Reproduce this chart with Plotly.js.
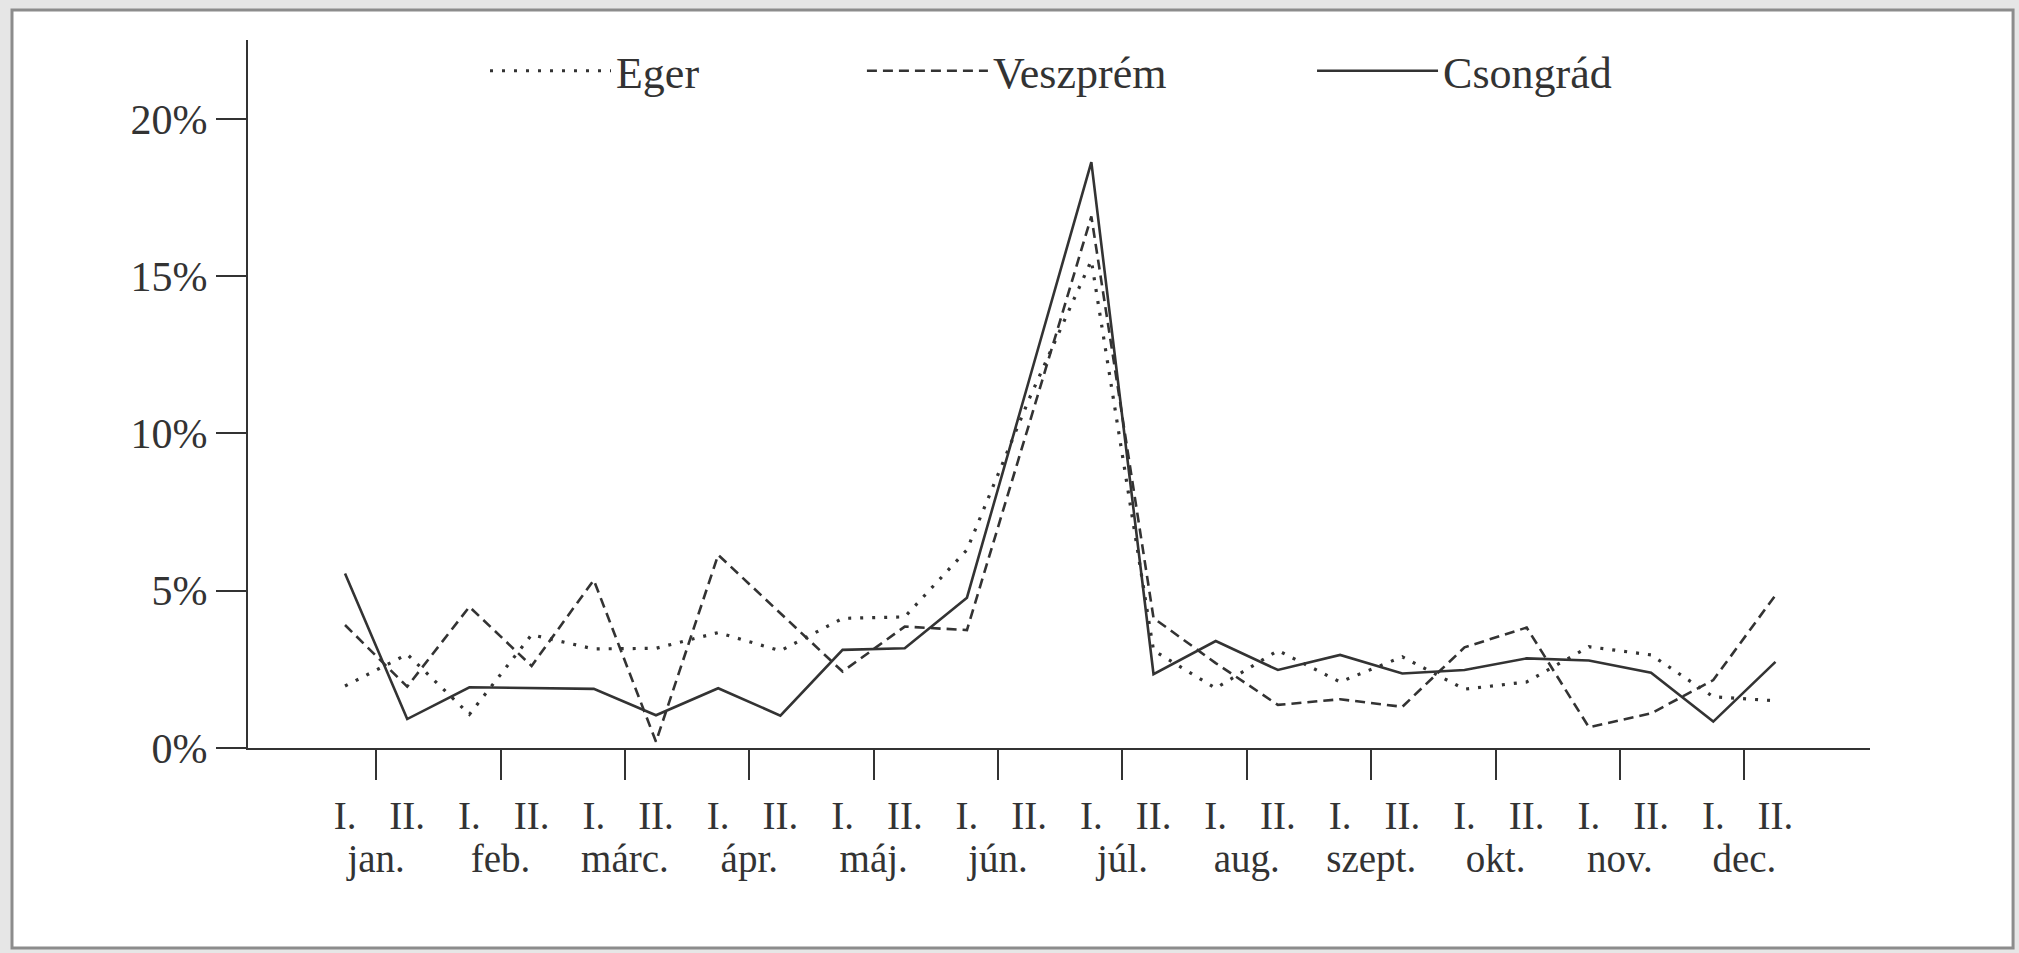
<!DOCTYPE html>
<html>
<head>
<meta charset="utf-8">
<script src="https://cdn.plot.ly/plotly-3.0.1.min.js"></script>
<style>html,body{margin:0;padding:0;background:#e6e6e6;}</style>
</head>
<body>
<div id="chart" style="width:2019px;height:953px;"></div>
<script>
// ---- data ----
const months = ["jan.", "feb.", "márc.", "ápr.", "máj.", "jún.", "júl.", "aug.", "szept.", "okt.", "nov.", "dec."];
const halves = ["I.", "II."];
const seriesNames = ["Eger", "Veszprém", "Csongrád"];
const eger     = [1.97, 2.98, 1.07, 3.60, 3.15, 3.17, 3.67, 3.09, 4.12, 4.17, 6.30, 11.1, 15.5, 3.10, 1.90, 3.10, 2.10, 2.90, 1.87, 2.10, 3.22, 2.96, 1.63, 1.50];
const veszprem = [3.91, 1.95, 4.49, 2.61, 5.34, 0.20, 6.14, 4.30, 2.43, 3.86, 3.75, 10.3, 16.9, 4.13, 2.70, 1.37, 1.55, 1.31, 3.20, 3.83, 0.66, 1.10, 2.16, 4.86];
const csongrad = [5.55, 0.92, 1.93, 1.90, 1.88, 1.04, 1.90, 1.03, 3.12, 3.17, 4.78, 11.7, 18.63, 2.35, 3.40, 2.48, 2.96, 2.37, 2.48, 2.85, 2.78, 2.39, 0.84, 2.74];
const yTickVals = [0, 5, 10, 15, 20];
const yTickText = ["0%", "5%", "10%", "15%", "20%"];

// ---- derived positions ----
const periodLabels = months.flatMap(() => halves);
const periodIndex = periodLabels.map((_, i) => i);
const monthCenters = months.map((_, i) => 2 * i + 0.5);

const FONT = "Liberation Serif, Times New Roman, serif";
const INK = "#333333";
const XR = [-1.56, 24.52];

const traces = [
  {x: periodIndex, y: eger, name: seriesNames[0], type: "scatter", mode: "lines", legend: "legend",
   line: {color: INK, width: 3.2, dash: "3px,9px"}},
  {x: periodIndex, y: veszprem, name: seriesNames[1], type: "scatter", mode: "lines", legend: "legend2",
   line: {color: INK, width: 2.6, dash: "10px,6px"}},
  {x: periodIndex, y: csongrad, name: seriesNames[2], type: "scatter", mode: "lines", legend: "legend3",
   line: {color: INK, width: 2.6}},
  {x: monthCenters, y: monthCenters.map(() => null), xaxis: "x2", yaxis: "y",
   type: "scatter", mode: "lines", showlegend: false, hoverinfo: "skip"}
];

function legendAt(x) {
  return {
    orientation: "h", x: x, xanchor: "left", y: 0.956, yanchor: "middle",
    font: {family: FONT, size: 44, color: INK},
    itemwidth: 121, bgcolor: "rgba(0,0,0,0)"
  };
}

const layout = {
  width: 2019, height: 953,
  margin: {l: 248, r: 149, t: 40, b: 205},
  paper_bgcolor: "#e6e6e6",
  plot_bgcolor: "#ffffff",
  font: {family: FONT, color: INK, size: 40},
  showlegend: true,
  legend: legendAt(0.1461),
  legend2: legendAt(0.3785),
  legend3: legendAt(0.6560),
  xaxis: {
    range: XR, tickmode: "array", tickvals: periodIndex, ticktext: periodLabels,
    ticks: "", showline: true, linecolor: INK, linewidth: 2,
    showgrid: false, zeroline: false, fixedrange: true,
    tickfont: {family: FONT, size: 39, color: INK},
    ticklabelstandoff: 32
  },
  xaxis2: {
    overlaying: "x", anchor: "y", side: "bottom",
    range: XR, tickmode: "array", tickvals: monthCenters, ticktext: months,
    ticks: "outside", ticklen: 31, tickwidth: 2, tickcolor: INK,
    showline: false, showgrid: false, zeroline: false, fixedrange: true,
    tickfont: {family: FONT, size: 39, color: INK},
    ticklabelstandoff: 45
  },
  yaxis: {
    range: [0, 22.51], tickmode: "array", tickvals: yTickVals, ticktext: yTickText,
    ticks: "outside", ticklen: 30, tickwidth: 2, tickcolor: INK,
    showline: true, linecolor: INK, linewidth: 2,
    showgrid: false, zeroline: false, fixedrange: true,
    tickfont: {family: FONT, size: 42, color: INK},
    ticklabelstandoff: 0
  },
  shapes: [
    {type: "rect", xref: "paper", yref: "paper", layer: "below",
     x0: -0.1455, x1: 1.0882, y0: -0.2825, y1: 1.0424,
     fillcolor: "#ffffff", line: {color: "#8c8c8c", width: 3}}
  ]
};

Plotly.newPlot("chart", traces, layout, {displayModeBar: false, staticPlot: true});
</script>
</body>
</html>
